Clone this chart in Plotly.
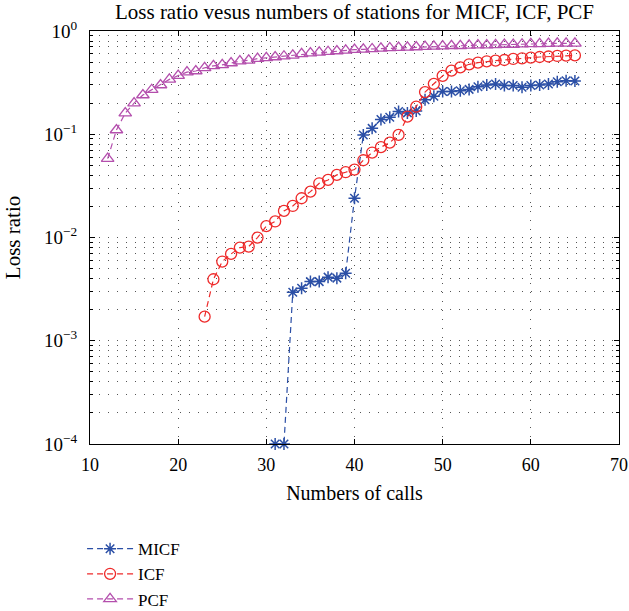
import plotly.graph_objects as go

# ---------------- data ----------------
micf_x = list(range(31, 66))
micf_y = [1e-4, 1e-4, 0.00295, 0.00323, 0.00374, 0.00374, 0.00413, 0.00404, 0.00451,
          0.024, 0.0985, 0.114, 0.139, 0.146, 0.166, 0.161, 0.168, 0.216, 0.233,
          0.259, 0.259, 0.264, 0.272, 0.289, 0.300, 0.307, 0.296, 0.296, 0.285,
          0.296, 0.300, 0.307, 0.323, 0.330, 0.328]

icf_x = list(range(23, 66))
icf_y = [0.00171, 0.00394, 0.00585, 0.00693, 0.00798, 0.00817, 0.00998, 0.0129, 0.0143,
         0.0181, 0.0202, 0.0240, 0.0278, 0.0335, 0.0361, 0.0404, 0.0429, 0.0455,
         0.0560, 0.0665, 0.0750, 0.0830, 0.0985, 0.148, 0.185, 0.256, 0.308, 0.368,
         0.413, 0.445, 0.476, 0.494, 0.509, 0.516, 0.524, 0.536, 0.544, 0.552,
         0.560, 0.566, 0.573, 0.578, 0.580]

pcf_x = list(range(12, 66))
pcf_y = [0.058, 0.11, 0.16, 0.20, 0.24, 0.27, 0.30, 0.34, 0.37, 0.40, 0.41, 0.44,
         0.46, 0.47, 0.49, 0.51, 0.52, 0.54, 0.55, 0.56, 0.57, 0.58, 0.60, 0.61,
         0.62, 0.63, 0.64, 0.65, 0.66, 0.665, 0.67, 0.68, 0.685, 0.69, 0.695, 0.70,
         0.705, 0.71, 0.715, 0.72, 0.72, 0.725, 0.73, 0.73, 0.735, 0.74, 0.74,
         0.745, 0.75, 0.75, 0.755, 0.76, 0.76, 0.76]

y_tickvals = [1e-4, 1e-3, 1e-2, 1e-1, 1]
y_ticktext = ["10<sup>\u22124</sup>", "10<sup>\u22123</sup>", "10<sup>\u22122</sup>",
              "10<sup>\u22121</sup>", "10<sup>0</sup>"]

title_text = "Loss ratio vesus numbers of stations for MICF, ICF, PCF"
x_title = "Numbers of calls"
y_title = "Loss ratio"

# ---------------- figure ----------------
FONT = "Liberation Serif"
DASH = "6px,4px"
GRIDDASH = "1px,8px"
GRIDCOLOR = "#555555"

fig = go.Figure()
fig.add_trace(go.Scatter(
    x=micf_x, y=micf_y, name="MICF", mode="lines+markers", cliponaxis=False,
    line=dict(color="#2B4FA6", width=1.2, dash=DASH),
    marker=dict(symbol="asterisk-open", size=10, color="#2B4FA6",
                line=dict(color="#2B4FA6", width=1.5))))
fig.add_trace(go.Scatter(
    x=icf_x, y=icf_y, name="ICF", mode="lines+markers", cliponaxis=False,
    line=dict(color="#EE2A2A", width=1.2, dash=DASH),
    marker=dict(symbol="circle-open", size=11, color="#EE2A2A",
                line=dict(color="#EE2A2A", width=1.3))))
fig.add_trace(go.Scatter(
    x=pcf_x, y=pcf_y, name="PCF", mode="lines+markers", cliponaxis=False,
    line=dict(color="#B44FAD", width=1.2, dash=DASH),
    marker=dict(symbol="triangle-up-open", size=11, color="#B44FAD",
                line=dict(color="#B44FAD", width=1.3))))

fig.update_layout(
    width=629, height=611, autosize=False,
    margin=dict(l=90, r=10, t=31, b=167, autoexpand=False),
    paper_bgcolor="white", plot_bgcolor="white",
    font=dict(family=FONT, size=19, color="black"),
    title=dict(text=title_text, x=0.5, xref="paper", y=1 - 12 / 611,
               yanchor="middle", font=dict(family=FONT, size=21, color="black")),
    showlegend=True,
    legend=dict(x=-0.015, y=-0.211, xanchor="left", yanchor="top",
                bgcolor="rgba(0,0,0,0)", font=dict(family=FONT, size=17),
                tracegroupgap=0, itemwidth=46),
)

fig.update_xaxes(
    range=[10, 70], dtick=10, tick0=10,
    showline=True, linecolor="black", linewidth=1, mirror="ticks",
    ticks="inside", ticklen=5, tickcolor="black",
    showgrid=True, gridcolor=GRIDCOLOR, gridwidth=1, griddash=GRIDDASH,
    zeroline=False, ticklabelstandoff=4,
    title=dict(text=x_title, standoff=12, font=dict(family=FONT, size=20)),
    tickfont=dict(family=FONT, size=18),
)
fig.update_yaxes(
    type="log", range=[-4, 0],
    tickmode="array", tickvals=y_tickvals, ticktext=y_ticktext,
    showline=True, linecolor="black", linewidth=1, mirror="ticks",
    ticks="inside", ticklen=5, tickcolor="black",
    showgrid=True, gridcolor=GRIDCOLOR, gridwidth=1, griddash=GRIDDASH,
    minor=dict(dtick="D1", ticks="inside", ticklen=3, tickcolor="black",
               showgrid=True, gridcolor=GRIDCOLOR, gridwidth=1, griddash=GRIDDASH),
    zeroline=False, ticklabelstandoff=8,
    title=dict(text=y_title, standoff=17, font=dict(family=FONT, size=21)),
    tickfont=dict(family=FONT, size=19),
)

fig.write_html("out.html", config={"displayModeBar": False},
               post_script="document.body.style.margin='0';")
